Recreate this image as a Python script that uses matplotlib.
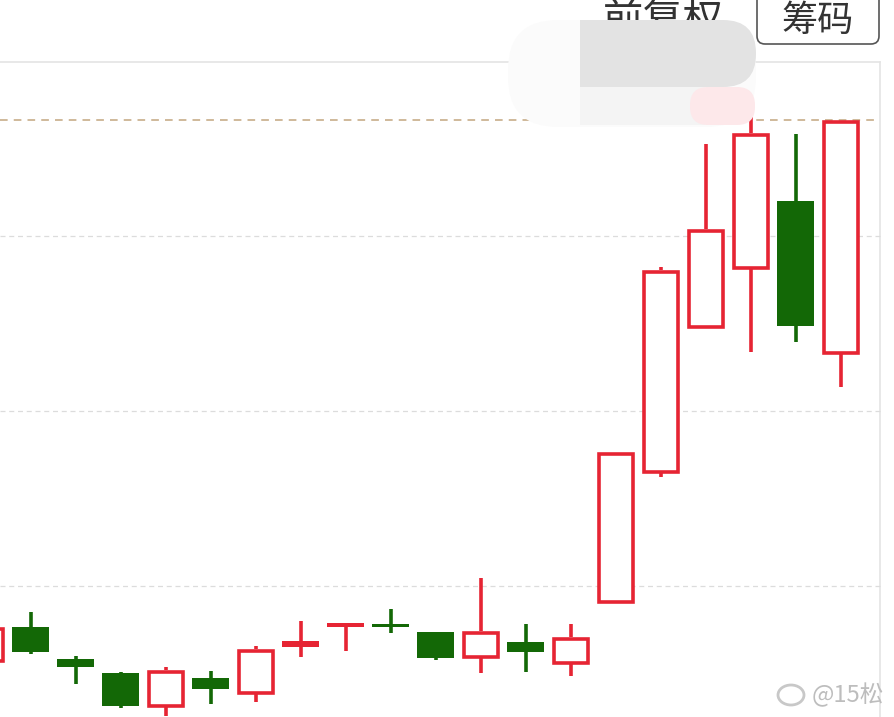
import numpy as np
import matplotlib.pyplot as plt
from matplotlib.patches import Rectangle, FancyBboxPatch, Ellipse

plt.rcParams['font.family'] = ['Noto Sans CJK SC', 'DejaVu Sans']

# candle data (price units = pixels above bottom edge)
idx = np.arange(20)
opens = [55, 90, 58, 44, 10, 39, 23, 70, 90, 93, 85, 59, 75, 53, 114, 244, 389, 448, 516, 363]
closes = [90, 65, 50, 11, 47, 28, 68, 76, 94, 90, 59, 86, 65, 80, 265, 447, 488, 584, 391, 597]
highs = [90, 105, 61, 45, 50, 46, 71, 96, 94, 108, 85, 139, 93, 93, 265, 450, 573, 620, 583, 597]
lows = [55, 63, 33, 9, 1, 13, 15, 60, 66, 84, 57, 44, 45, 41, 114, 240, 389, 365, 375, 330]

grid_levels = [131, 306, 481]
top_level = 597

RED = '#e62433'
GREEN = '#136806'

fig = plt.figure(figsize=(8.95, 7.17), dpi=100)
ax = fig.add_axes([0, 0, 1, 1])
ax.set_xlim(0, 895)
ax.set_ylim(0, 717)
ax.axis('off')

# frame of the chart area
ax.plot([0, 880], [655, 655], color='#e4e4e4', lw=1.2, zorder=1)
ax.plot([880, 880], [0, 655], color='#e4e4e4', lw=1.2, zorder=1)
for g in grid_levels:
    ax.plot([0, 880], [g, g], color='#dcdcdc', lw=0.9, ls=(0, (4, 3)), zorder=1)
ax.plot([0, 880], [top_level, top_level], color='#c2a57f', lw=1.1, ls=(0, (5, 4)), zorder=1)

# candles
x0, step, w = -14, 45, 37
lw = 2.6
for i in idx:
    cx = x0 + step * i
    o, c, h, l = opens[i], closes[i], highs[i], lows[i]
    top, bot = max(o, c), min(o, c)
    if c >= o:
        col = RED
        hollow = (top - bot) > 8
    else:
        col = GREEN
        hollow = False
    if hollow:
        ax.plot([cx, cx], [top, h], color=col, lw=lw, zorder=3, solid_capstyle='butt')
        ax.plot([cx, cx], [l, bot], color=col, lw=lw, zorder=3, solid_capstyle='butt')
        ax.add_patch(Rectangle((cx - w / 2 + 1.5, bot + 1.5), w - 3, top - bot - 3,
                               facecolor='white', edgecolor=col, lw=lw, zorder=3))
    else:
        ax.plot([cx, cx], [l, h], color=col, lw=lw, zorder=3, solid_capstyle='butt')
        ax.add_patch(Rectangle((cx - w / 2, bot), w, max(top - bot, 3),
                               facecolor=col, edgecolor='none', zorder=3))

# header controls
ax.text(663, 697, '前复权', fontsize=29, color='#333333', ha='center', va='center', zorder=4)
ax.add_patch(FancyBboxPatch((757, 673), 122, 60, boxstyle='round,pad=0,rounding_size=8',
                            facecolor='white', edgecolor='#555555', lw=1.2, zorder=4))
ax.text(818, 696, '筹码', fontsize=26, color='#333333', ha='center', va='center', zorder=5)

# blurred privacy patch
ax.add_patch(FancyBboxPatch((508, 590), 248, 107, boxstyle='round,pad=0,rounding_size=50',
                            facecolor='#fbfbfb', edgecolor='none', zorder=6))
ax.add_patch(Rectangle((580, 630), 125, 67, facecolor='#e3e3e3', edgecolor='none', zorder=7))
ax.add_patch(FancyBboxPatch((640, 630), 116, 67, boxstyle='round,pad=0,rounding_size=33',
                            facecolor='#e3e3e3', edgecolor='none', zorder=7))
ax.add_patch(Rectangle((580, 592), 125, 38, facecolor='#f4f4f4', edgecolor='none', zorder=7))
ax.add_patch(FancyBboxPatch((690, 592), 65, 38, boxstyle='round,pad=0,rounding_size=18',
                            facecolor='#fde8ea', edgecolor='none', zorder=7))

# watermark
ax.add_patch(Ellipse((791, 22), 26, 20, facecolor='none', edgecolor='#c8c8c8', lw=2, zorder=8))
ax.text(848, 22, '@15松', fontsize=17, color='#bdbdbd', ha='center', va='center', zorder=8)

fig.savefig('out.png', dpi=100)
